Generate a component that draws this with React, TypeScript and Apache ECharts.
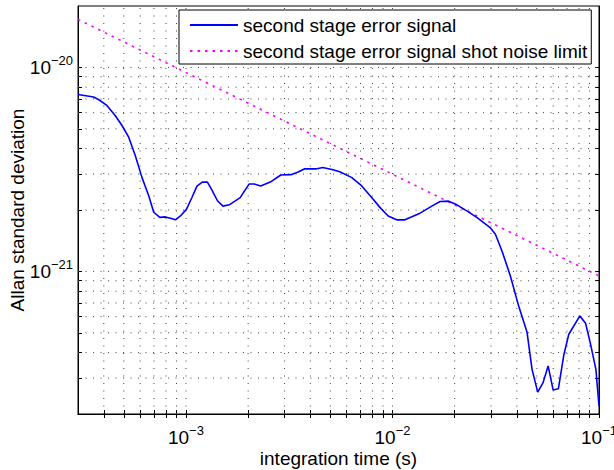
import React, { useEffect, useRef } from "react";
import * as echarts from "echarts";

const tau = [
  3.0e-4, 3.57e-4, 3.77e-4, 4.14e-4, 4.54e-4, 4.9e-4, 5.28e-4, 5.68e-4, 6.12e-4, 6.6e-4,
  6.98e-4, 7.47e-4, 7.95e-4, 8.41e-4, 8.89e-4, 9.4e-4, 1.006e-3, 1.07e-3, 1.13e-3, 1.2e-3,
  1.27e-3, 1.34e-3, 1.42e-3, 1.51e-3, 1.62e-3, 1.83e-3, 2.02e-3, 2.14e-3, 2.3e-3, 2.56e-3,
  2.88e-3, 3.22e-3, 3.47e-3, 3.74e-3, 4.26e-3, 4.59e-3, 5.15e-3, 5.55e-3, 6.33e-3, 7.08e-3,
  7.91e-3, 8.69e-3, 9.53e-3, 1.047e-2, 1.149e-2, 1.36e-2, 1.55e-2, 1.7e-2, 1.87e-2, 2.05e-2,
  2.29e-2, 2.56e-2, 2.97e-2, 3.15e-2, 3.39e-2, 3.72e-2, 4.08e-2, 4.48e-2, 4.74e-2, 5.05e-2,
  5.36e-2, 5.67e-2, 6.0e-2, 6.36e-2, 6.75e-2, 7.14e-2, 8.08e-2, 8.61e-2, 9.1e-2, 9.66e-2, 0.1,
];

const errorSignal = [
  7.37e-21, 7.16e-21, 6.96e-21, 6.51e-21, 5.81e-21, 5.19e-21, 4.55e-21, 3.7e-21, 2.89e-21, 2.35e-21,
  1.95e-21, 1.84e-21, 1.85e-21, 1.82e-21, 1.79e-21, 1.87e-21, 2.02e-21, 2.31e-21, 2.62e-21, 2.74e-21,
  2.74e-21, 2.49e-21, 2.22e-21, 2.09e-21, 2.12e-21, 2.3e-21, 2.68e-21, 2.68e-21, 2.62e-21, 2.74e-21,
  2.97e-21, 2.98e-21, 3.06e-21, 3.18e-21, 3.18e-21, 3.23e-21, 3.15e-21, 3.08e-21, 2.89e-21, 2.63e-21,
  2.31e-21, 2.06e-21, 1.87e-21, 1.79e-21, 1.79e-21, 1.93e-21, 2.09e-21, 2.2e-21, 2.21e-21, 2.12e-21,
  1.98e-21, 1.84e-21, 1.64e-21, 1.52e-21, 1.26e-21, 9.52e-22, 6.78e-22, 5.05e-22, 3.31e-22, 2.56e-22,
  2.85e-22, 3.44e-22, 2.62e-22, 2.66e-22, 3.88e-22, 4.92e-22, 6.05e-22, 5.57e-22, 4.4e-22, 3.31e-22, 2.19e-22,
];

const shotTau = [3.0e-4, 0.1];
const shotNoise = [1.72e-20, 9.5e-22];

const seriesNames = ["second stage error signal", "second stage error signal shot noise limit"];
const xLabelValues = [1e-3, 1e-2, 1e-1];
const yLabelValues = [1e-21, 1e-20];
const xRange = [3e-4, 0.1];
const yRange = [2e-22, 2e-20];
const xName = "integration time (s)";
const yName = "Allan standard deviation";

const FONT = "Liberation Sans, Arial, Helvetica, sans-serif";

function gridValues(range: number[]): number[] {
  const out: number[] = [];
  const lo = Math.floor(Math.log10(range[0]));
  const hi = Math.ceil(Math.log10(range[1]));
  for (let e = lo; e <= hi; e++) {
    for (let m = 1; m <= 9; m++) {
      const v = m * Math.pow(10, e);
      if (v > range[0] * 1.001 && v < range[1] * 0.999) out.push(v);
    }
  }
  return out;
}

function powLabel(v: number) {
  const e = Math.round(Math.log10(v));
  return `{b|10}{s|${e < 0 ? "\u2212" : ""}${Math.abs(e)}}`;
}

const rich = {
  b: { fontSize: 19, lineHeight: 26, fontFamily: FONT, color: "#000" },
  s: { fontSize: 13, lineHeight: 10, verticalAlign: "top", fontFamily: FONT, color: "#000" },
};

export default function App() {
  const ref = useRef<HTMLDivElement>(null);
  useEffect(() => {
    if (!ref.current) return;
    const chart = echarts.init(ref.current, null, { renderer: "svg" });
    const xGrid = gridValues(xRange);
    const yGrid = gridValues(yRange);
    const tickStyle = { show: true, inside: true, length: 4, lineStyle: { color: "#000", width: 1 } };
    const axisLine = { show: true, lineStyle: { color: "#000", width: 1 } };
    const gridLineStyle = { color: "#444", type: [1, 6.5], width: 1 };
    const gridSeries = [
      ...xGrid.map((v) => ({
        type: "line",
        data: [
          [v, yRange[0]],
          [v, yRange[1]],
        ],
        symbol: "none",
        silent: true,
        lineStyle: gridLineStyle,
        z: 1,
      })),
      ...yGrid.map((v) => ({
        type: "line",
        data: [
          [xRange[0], v],
          [xRange[1], v],
        ],
        symbol: "none",
        silent: true,
        lineStyle: gridLineStyle,
        z: 1,
      })),
    ];
    chart.setOption({
      animation: false,
      backgroundColor: "#fff",
      textStyle: { fontFamily: FONT },
      grid: {
        left: 78,
        right: 15,
        top: 6,
        bottom: 56,
        containLabel: false,
        outerBoundsMode: "none",
        show: true,
        borderColor: "#000",
        borderWidth: 1,
        backgroundColor: "transparent",
      },
      legend: {
        left: 179,
        top: 10,
        orient: "vertical",
        itemWidth: 48,
        itemHeight: 14,
        itemGap: 6,
        padding: [5, 4, 3, 10],
        backgroundColor: "#fff",
        borderColor: "#000",
        borderWidth: 1,
        borderRadius: 0,
        itemStyle: { opacity: 0 },
        textStyle: { fontSize: 19, lineHeight: 20, color: "#000", fontFamily: FONT },
        data: seriesNames,
      },
      xAxis: [
        {
          type: "log",
          min: xRange[0],
          max: xRange[1],
          position: "bottom",
          name: xName,
          nameLocation: "middle",
          nameGap: 35,
          nameMoveOverlap: false,
          nameTextStyle: { fontSize: 19, color: "#000", fontFamily: FONT },
          axisLine,
          axisTick: { ...tickStyle, customValues: [...xGrid, ...xLabelValues] },
          axisLabel: {
            customValues: xLabelValues,
            formatter: (v: number) => powLabel(v),
            rich,
            margin: 10,
          },
          splitLine: { show: false },
          minorTick: { show: false },
        },
        {
          type: "log",
          min: xRange[0],
          max: xRange[1],
          position: "top",
          axisLine,
          axisTick: { ...tickStyle, customValues: [...xGrid, ...xLabelValues] },
          axisLabel: { show: false },
          splitLine: { show: false },
        },
      ],
      yAxis: [
        {
          type: "log",
          min: yRange[0],
          max: yRange[1],
          position: "left",
          name: yName,
          nameLocation: "middle",
          nameGap: 51,
          nameMoveOverlap: false,
          nameTextStyle: { fontSize: 19, color: "#000", fontFamily: FONT },
          axisLine,
          axisTick: { ...tickStyle, customValues: [...yGrid, ...yLabelValues] },
          axisLabel: {
            customValues: yLabelValues,
            formatter: (v: number) => powLabel(v),
            rich,
            margin: 5,
          },
          splitLine: { show: false },
        },
        {
          type: "log",
          min: yRange[0],
          max: yRange[1],
          position: "right",
          axisLine,
          axisTick: { ...tickStyle, customValues: [...yGrid, ...yLabelValues] },
          axisLabel: { show: false },
          splitLine: { show: false },
        },
      ],
      series: [
        ...gridSeries,
        {
          name: seriesNames[0],
          type: "line",
          xAxisIndex: 0,
          yAxisIndex: 0,
          data: tau.map((t, i) => [t, errorSignal[i]]),
          symbol: "none",
          lineStyle: { color: "#0000ff", width: 1.6 },
          itemStyle: { color: "#0000ff" },
          z: 3,
        },
        {
          name: seriesNames[1],
          type: "line",
          xAxisIndex: 0,
          yAxisIndex: 0,
          data: shotTau.map((t, i) => [t, shotNoise[i]]),
          symbol: "none",
          lineStyle: { color: "#ff00ff", width: 1.6, type: [2.5, 5] },
          itemStyle: { color: "#ff00ff" },
          z: 2,
        },
      ],
    });
    return () => chart.dispose();
  }, []);
  return (
    <div
      ref={ref}
      style={{ position: "absolute", left: 0, top: 0, width: 614, height: 470, background: "#fff" }}
    />
  );
}
